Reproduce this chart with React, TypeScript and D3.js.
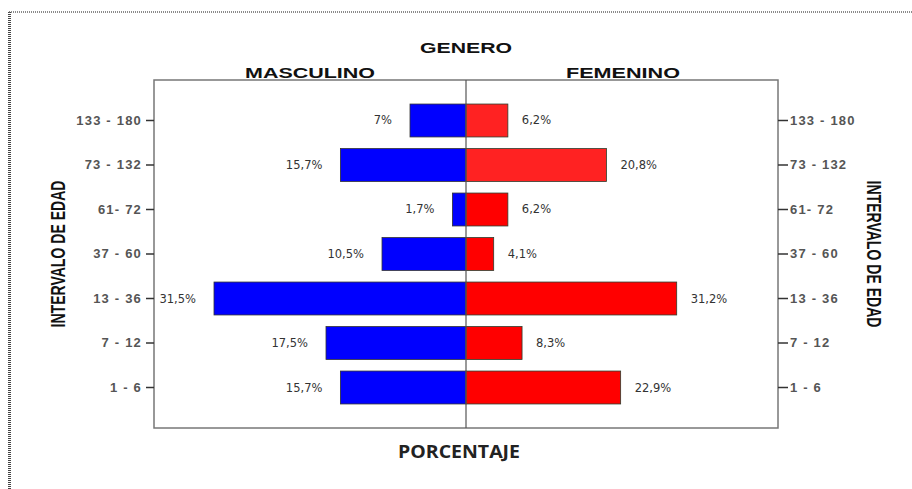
import { useEffect, useRef } from "react";
import * as d3 from "d3";

const ageGroups = ["133 - 180", "73 - 132", "61- 72", "37 - 60", "13 - 36", "7 - 12", "1 - 6"];
const masculino = [7, 15.7, 1.7, 10.5, 31.5, 17.5, 15.7];
const femenino = [6.2, 20.8, 6.2, 4.1, 31.2, 8.3, 22.9];
const sideTitles = ["MASCULINO", "FEMENINO"];

const App = () => {
  const ref = useRef<SVGSVGElement>(null);

  useEffect(() => {
    document.body.style.margin = "0";
    const width = 912, height = 489;
    const left = 154, right = 778, top = 80, bottom = 428, mid = 466;

    const svg = d3.select(ref.current)
      .html("")
      .attr("width", width)
      .attr("height", height);

    svg.append("rect").attr("width", width).attr("height", height).attr("fill", "#fff");

    // dotted border (left + top)
    svg.append("line").attr("x1", 9.5).attr("y1", 12).attr("x2", 9.5).attr("y2", height)
      .attr("stroke", "#444").attr("stroke-width", 3).attr("stroke-dasharray", "1,1");
    svg.append("line").attr("x1", 9).attr("y1", 12).attr("x2", width).attr("y2", 12)
      .attr("stroke", "#666").attr("stroke-width", 1.5).attr("stroke-dasharray", "1,1");

    const y = d3.scaleBand()
      .domain(ageGroups)
      .range([top, bottom])
      .paddingInner(0.26)
      .paddingOuter(0.54);

    const xLeft = d3.scaleLinear().domain([0, 39]).range([mid, left]);
    const xRight = d3.scaleLinear().domain([0, 46.2]).range([mid, right]);

    const fmt = d3.formatLocale({ decimal: ",", thousands: ".", grouping: [3], currency: ["", ""] }).format(".1~f");

    // frame
    svg.append("rect")
      .attr("x", left).attr("y", top)
      .attr("width", right - left).attr("height", bottom - top)
      .attr("fill", "none").attr("stroke", "#777").attr("stroke-width", 1.5);

    // bars
    svg.append("g").selectAll("rect")
      .data(ageGroups)
      .enter()
      .append("rect")
      .attr("x", (d, i) => xLeft(masculino[i]))
      .attr("y", d => y(d)!)
      .attr("width", (d, i) => mid - xLeft(masculino[i]))
      .attr("height", y.bandwidth())
      .attr("fill", "#0000ff")
      .attr("stroke", "#333")
      .attr("stroke-width", 0.8);

    svg.append("g").selectAll("rect")
      .data(ageGroups)
      .enter()
      .append("rect")
      .attr("x", mid)
      .attr("y", d => y(d)!)
      .attr("width", (d, i) => xRight(femenino[i]) - mid)
      .attr("height", y.bandwidth())
      .attr("fill", (d, i) => (i < 2 ? "#ff2222" : "#ff0000"))
      .attr("stroke", "#2d3d2d")
      .attr("stroke-width", 0.8);

    // center line
    svg.append("line")
      .attr("x1", mid).attr("x2", mid).attr("y1", top).attr("y2", bottom)
      .attr("stroke", "#555").attr("stroke-width", 1.2);

    // value labels
    const labelStyle = (sel: any) => sel
      .attr("font-family", "DejaVu Sans, Verdana, sans-serif")
      .attr("font-size", 11.5)
      .attr("fill", "#333")
      .attr("dominant-baseline", "central");

    svg.append("g").selectAll("text")
      .data(ageGroups)
      .enter()
      .append("text")
      .attr("x", (d, i) => xLeft(masculino[i]) - 18)
      .attr("y", d => y(d)! + y.bandwidth() / 2)
      .attr("text-anchor", "end")
      .text((d, i) => `${fmt(masculino[i])}%`)
      .call(labelStyle);

    svg.append("g").selectAll("text")
      .data(ageGroups)
      .enter()
      .append("text")
      .attr("x", (d, i) => xRight(femenino[i]) + 14)
      .attr("y", d => y(d)! + y.bandwidth() / 2)
      .attr("text-anchor", "start")
      .text((d, i) => `${fmt(femenino[i])}%`)
      .call(labelStyle);

    // axes
    const axisLeft = svg.append("g")
      .attr("transform", `translate(${left},0)`)
      .call(d3.axisLeft(y).tickSize(8).tickPadding(4));
    const axisRight = svg.append("g")
      .attr("transform", `translate(${right},0)`)
      .call(d3.axisRight(y).tickSize(10).tickPadding(2));

    [axisLeft, axisRight].forEach(a => {
      a.select(".domain").remove();
      a.selectAll(".tick line").attr("stroke", "#333").attr("stroke-width", 1.5);
      a.selectAll(".tick text")
        .attr("font-family", "Liberation Sans, Arial, sans-serif")
        .attr("font-size", 13)
        .attr("font-weight", "bold")
        .attr("letter-spacing", 1.2)
        .attr("fill", "#555");
    });

    // titles
    svg.append("text")
      .attr("x", mid).attr("y", 53)
      .attr("text-anchor", "middle")
      .attr("font-family", "Liberation Sans, Arial, sans-serif")
      .attr("font-weight", "bold").attr("font-size", 15)
      .attr("textLength", 92).attr("lengthAdjust", "spacingAndGlyphs")
      .attr("fill", "#111")
      .text("GENERO");

    const sideX = [310, 623];
    const sideW = [130, 114];
    sideTitles.forEach((t, i) => {
      svg.append("text")
        .attr("x", sideX[i]).attr("y", 78)
        .attr("text-anchor", "middle")
        .attr("font-family", "Liberation Sans, Arial, sans-serif")
        .attr("font-weight", "bold").attr("font-size", 15)
        .attr("textLength", sideW[i]).attr("lengthAdjust", "spacingAndGlyphs")
        .attr("fill", "#111")
        .text(t);
    });

    svg.append("text")
      .attr("x", 459).attr("y", 458)
      .attr("text-anchor", "middle")
      .attr("font-family", "Open Sans, Liberation Sans, sans-serif")
      .attr("font-weight", "bold").attr("font-size", 17)
      .attr("textLength", 122).attr("lengthAdjust", "spacingAndGlyphs")
      .attr("fill", "#222")
      .text("PORCENTAJE");

    const yTitle = (x: number, rot: number) => svg.append("text")
      .attr("transform", `translate(${x},254) rotate(${rot})`)
      .attr("text-anchor", "middle")
      .attr("dominant-baseline", "central")
      .attr("font-family", "Liberation Sans Narrow, Liberation Sans, Arial, sans-serif")
      .attr("font-weight", "bold").attr("font-size", 21)
      .attr("textLength", 147).attr("lengthAdjust", "spacingAndGlyphs")
      .attr("fill", "#111")
      .text("INTERVALO DE EDAD");
    yTitle(57, -90);
    yTitle(874, 90);
  }, []);

  return <svg ref={ref}></svg>;
};

export default App;
